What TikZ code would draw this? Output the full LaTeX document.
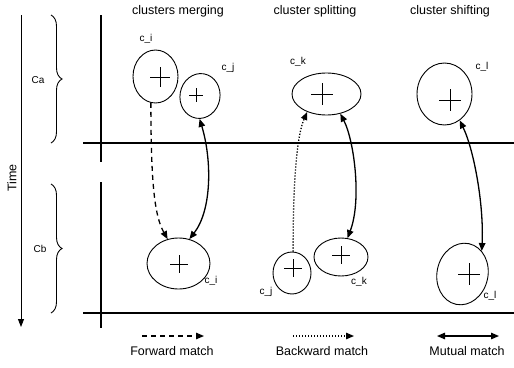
\documentclass[tikz,border=0pt]{standalone}
\usepackage{fontspec}
\setmainfont{Liberation Sans}
\usetikzlibrary{shapes.geometric,arrows.meta,decorations.pathreplacing}
\begin{document}
\begin{tikzpicture}[x=1pt,y=-1pt,
  clus/.style={draw,ellipse,inner sep=0pt,line width=0.9pt},
  plusmark/.style={inner sep=0pt,minimum size=#1,
    path picture={\draw[line width=0.8pt] (path picture bounding box.north)--(path picture bounding box.south)
      (path picture bounding box.west)--(path picture bounding box.east);}},
  lbl/.style={font=\fontsize{10}{12}\selectfont,inner sep=0pt},
  ttl/.style={font=\fontsize{12.5}{14}\selectfont,inner sep=0pt},
  axis/.style={line width=1.4pt},
  tip/.style={-{Triangle[length=8pt,width=6.5pt]}},
  mutual/.style={{Triangle[length=8pt,width=6.5pt]}-{Triangle[length=8pt,width=6.5pt]},line width=1.3pt},
  fwd/.style={tip,dashed,dash pattern=on 5pt off 4pt,line width=1.3pt},
  bwd/.style={tip,dash pattern=on 1.3pt off 1.7pt,line width=1.3pt},
  bracestyle/.style={decorate,decoration={brace,amplitude=11pt},line width=0.9pt}
]
\useasboundingbox (0,0) rectangle (514,367);

% time axis
\coordinate (t0) at (21,15);
\coordinate (t1) at (21,327);
\draw[-{Triangle[length=8pt,width=6pt]},line width=0.9pt] (t0) -- (t1);
\node[ttl,rotate=90] (time) at (12,178) {Time};

% braces
\coordinate (ba0) at (51,15);
\coordinate (ba1) at (51,143);
\draw[bracestyle] (ba0) -- (ba1);
\node[lbl] (Ca) at (38,80) {Ca};
\coordinate (bb0) at (51,184);
\coordinate (bb1) at (51,313);
\draw[bracestyle] (bb0) -- (bb1);
\node[lbl] (Cb) at (40,249) {Cb};

% axes
\coordinate (v0) at (101,15);
\coordinate (v1) at (101,162);
\coordinate (v2) at (101,182);
\coordinate (v3) at (101,328);
\coordinate (h0) at (83,143);
\coordinate (h1) at (514,143);
\coordinate (h2) at (83,313);
\coordinate (h3) at (514,313);
\draw[axis] (v0) -- (v1);
\draw[axis] (v2) -- (v3);
\draw[axis] (h0) -- (h1);
\draw[axis] (h2) -- (h3);

% titles
\node[ttl] (t1m) at (178,11) {clusters merging};
\node[ttl] (t2s) at (315,11) {cluster splitting};
\node[ttl] (t3s) at (450,11) {cluster shifting};

% top clusters
\node[clus,minimum width=45pt,minimum height=53pt] (cit) at (155.5,76.5) {};
\node[plusmark=20pt] (pit) at (160,77) {};
\node[lbl] (lit) at (146,39) {c\_i};

\node[clus,minimum width=40pt,minimum height=45pt,rotate=-10] (cjt) at (200,96) {};
\node[plusmark=14pt] (pjt) at (196,95) {};
\node[lbl] (ljt) at (228,68) {c\_j};

\node[clus,minimum width=69pt,minimum height=42pt] (ckt) at (326.5,94) {};
\node[plusmark=22pt] (pkt) at (322,94) {};
\node[lbl] (lkt) at (298,62) {c\_k};

\node[clus,minimum width=55pt,minimum height=62pt] (clt) at (444.5,94) {};
\node[plusmark=22pt] (plt) at (450,100) {};
\node[lbl] (llt) at (482,67) {c\_l};

% bottom clusters
\node[clus,minimum width=63pt,minimum height=51pt] (cib) at (178.5,263.5) {};
\node[plusmark=18pt] (pib) at (179,264) {};
\node[lbl] (lib) at (211,281) {c\_i};

\node[clus,minimum width=38pt,minimum height=42pt] (cjb) at (292,273) {};
\node[plusmark=18pt] (pjb) at (293,268) {};
\node[lbl] (ljb) at (266,292) {c\_j};

\node[clus,minimum width=54pt,minimum height=38pt] (ckb) at (341,257) {};
\node[plusmark=18pt] (pkb) at (341,255) {};
\node[lbl] (lkb) at (359,282) {c\_k};

\node[clus,minimum width=51pt,minimum height=62pt,rotate=-12] (clb) at (462.5,274) {};
\node[plusmark=22pt] (plb) at (469,274) {};
\node[lbl] (llb) at (490,296) {c\_l};

% matches
\draw[fwd] (cit.-100) .. controls (151,180) and (154,215) .. (cib.114);
\draw[mutual] (cjt.-81) .. controls (212,160) and (212,210) .. (cib.66);
\draw[bwd] (cjb.87) .. controls (293,180) and (297,135) .. (ckt.-137);
\draw[mutual] (ckt.-55) .. controls (354,140) and (362,200) .. (ckb.71);
\draw[mutual] (clt.-60) .. controls (474,150) and (484,205) .. (clb.62);

% legend
\coordinate (lf0) at (142,336);
\coordinate (lf1) at (204,336);
\draw[fwd] (lf0) -- (lf1);
\node[ttl] (lfw) at (172,351) {Forward match};
\coordinate (lb0) at (293,336);
\coordinate (lb1) at (354,336);
\draw[bwd] (lb0) -- (lb1);
\node[ttl] (lbw) at (322,351) {Backward match};
\coordinate (lm0) at (437,336);
\coordinate (lm1) at (499,336);
\draw[mutual] (lm0) -- (lm1);
\node[ttl] (lmu) at (467,351) {Mutual match};
\end{tikzpicture}
\end{document}
